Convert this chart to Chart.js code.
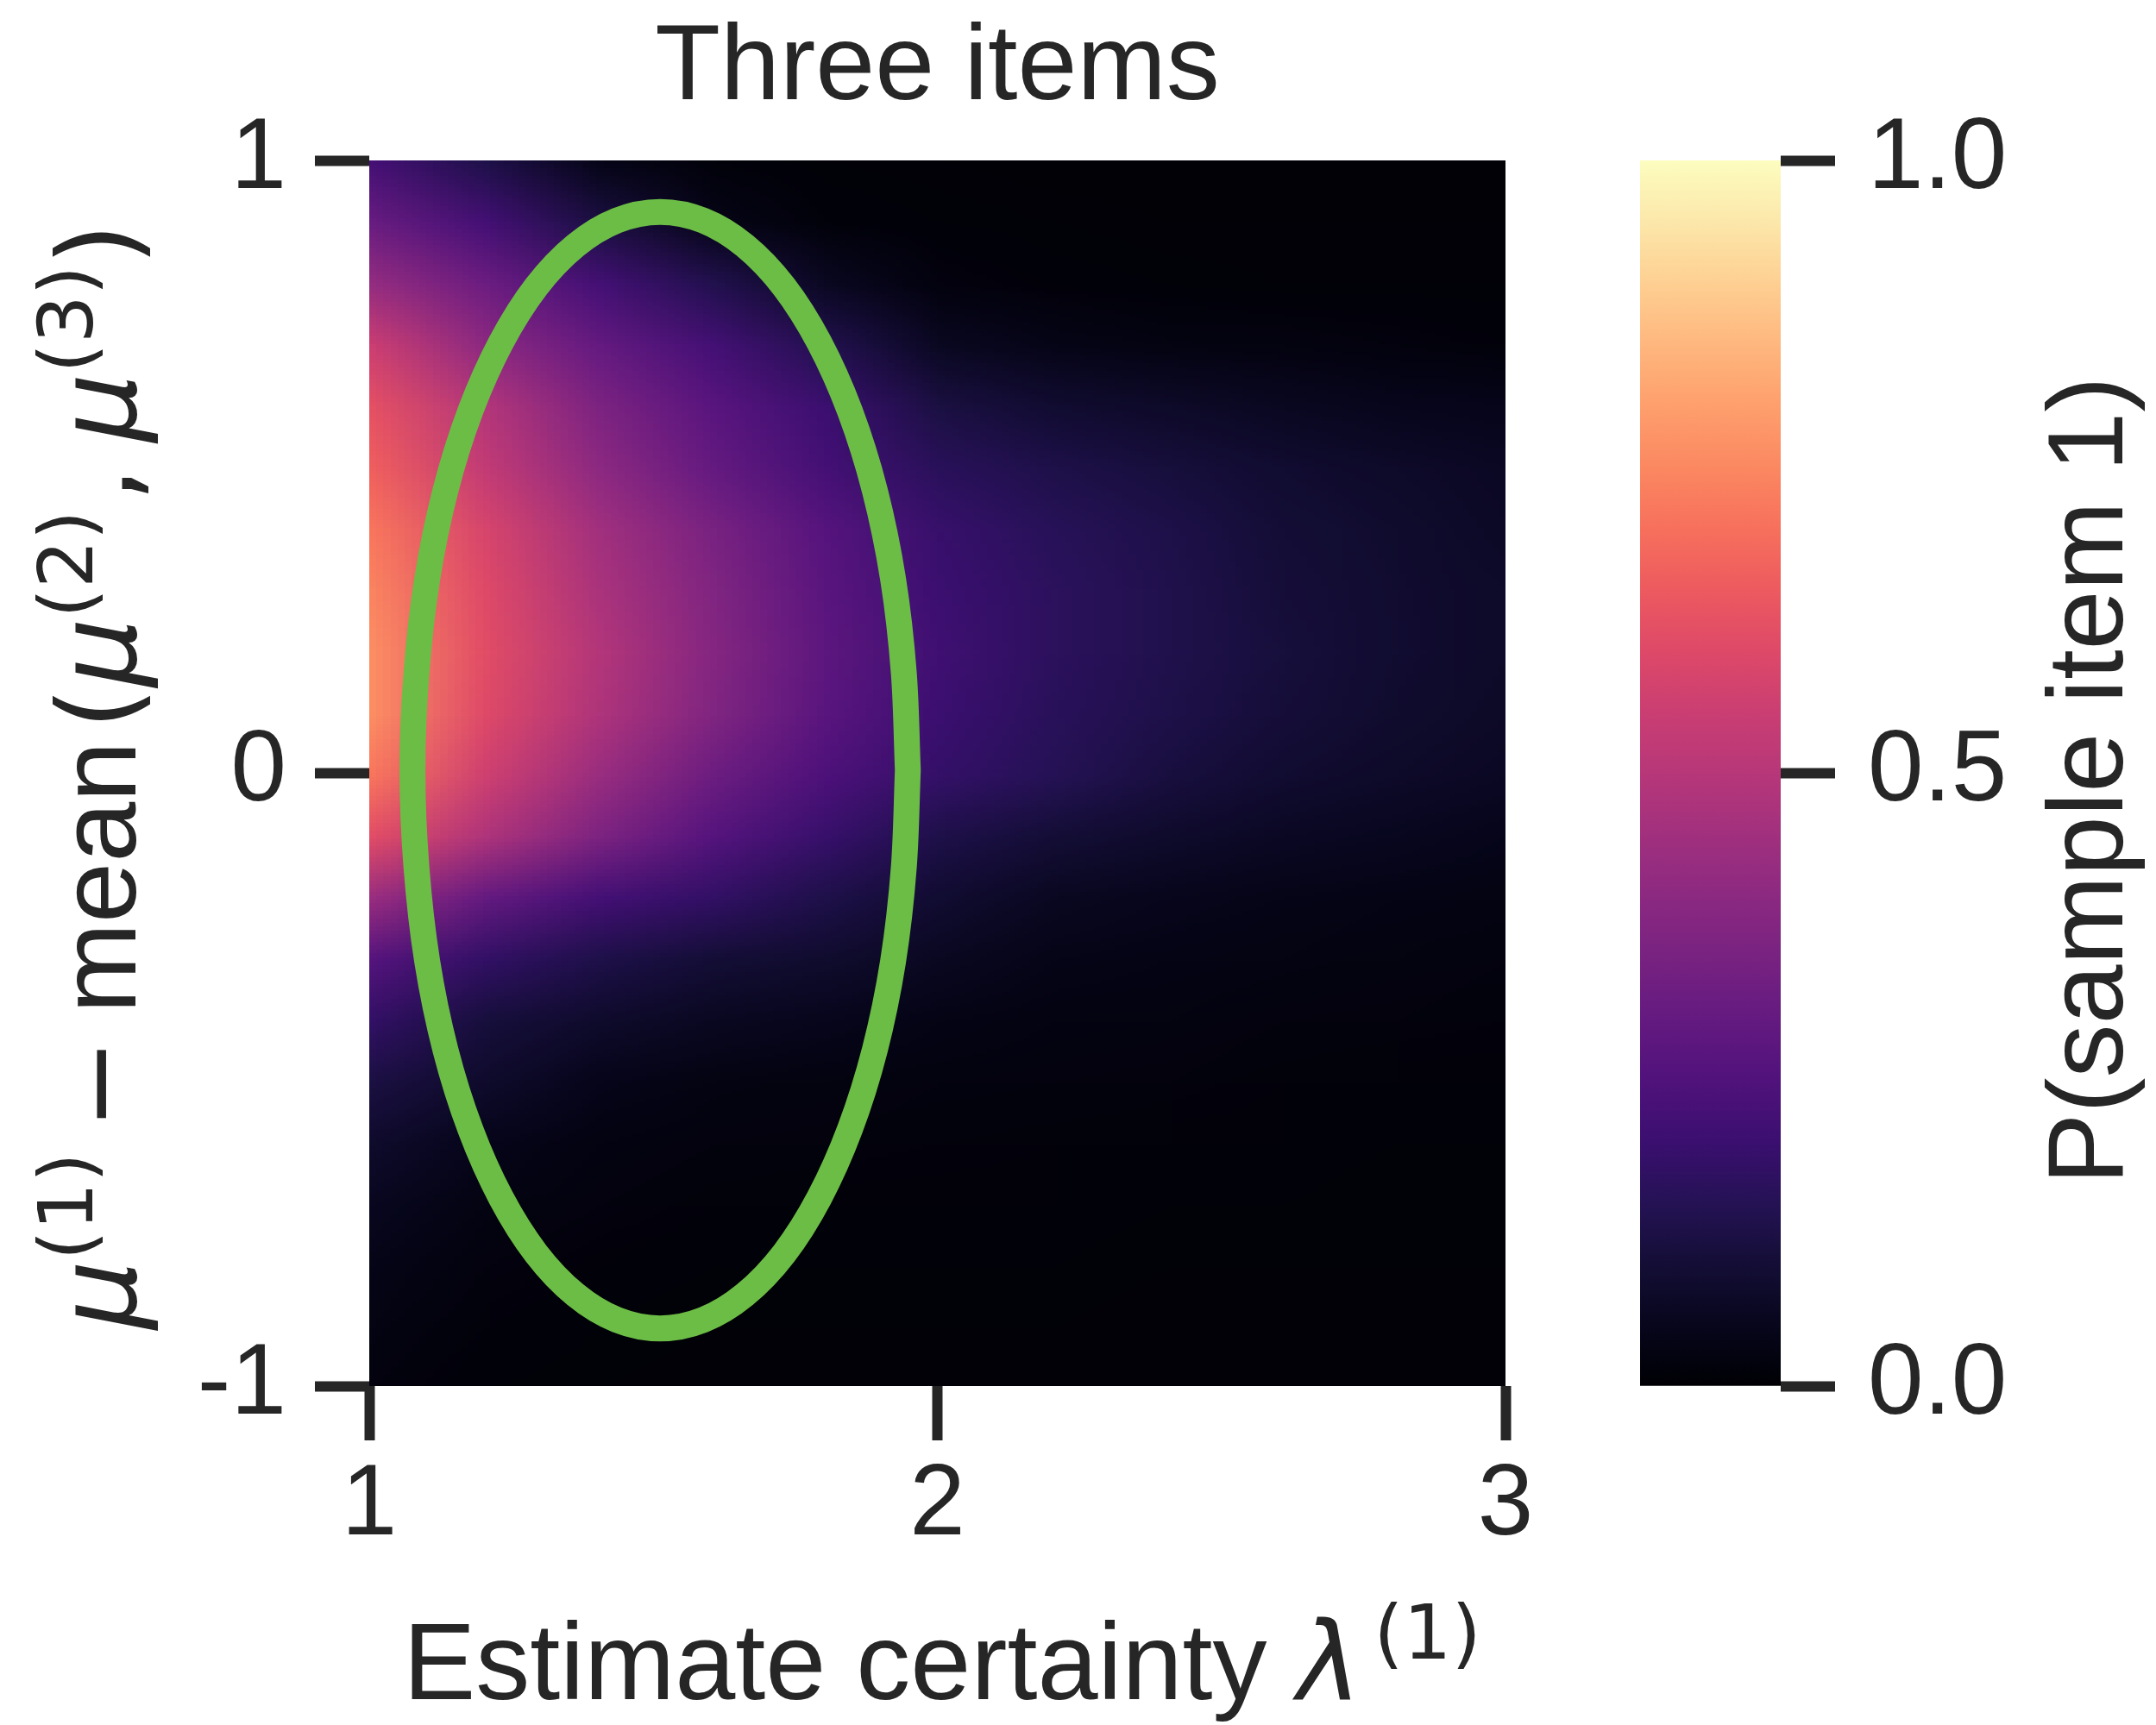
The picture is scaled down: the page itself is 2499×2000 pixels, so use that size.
<!DOCTYPE html>
<html>
<head>
<meta charset="utf-8">
<title>Three items</title>
<script src="https://cdn.jsdelivr.net/npm/chart.js@4.4.1/dist/chart.umd.min.js"></script>
<style>
  html, body { margin: 0; padding: 0; background: #fff; }
  #wrap { position: relative; width: 2499px; height: 2000px; }
  #main { position: absolute; left: 0; top: 0; }
  #cbar { position: absolute; left: 1850px; top: 0; }
</style>
</head>
<body>
<div id="wrap">
  <canvas id="main" width="2499" height="2000"></canvas>
  <canvas id="cbar" width="649" height="2000"></canvas>
</div>
<script>
const titleText = 'Three items';
const cbLabelText = 'P(sample item 1)';

// estimate certainty lambda(1): grid columns
const lambdaGrid = [1.0, 1.2, 1.4, 1.6, 1.8, 2.0, 2.2, 2.4, 2.6, 2.8, 3.0];
// mu(1) - mean(mu(2), mu(3)): grid rows, top to bottom
const deltaGrid = [1.0, 0.9, 0.8, 0.7, 0.6, 0.5, 0.4, 0.3, 0.2, 0.1, 0.0,
  -0.1, -0.2, -0.3, -0.4, -0.5, -0.6, -0.7, -0.8, -0.9, -1.0];
// P(sample item 1), one row per deltaGrid value
const pSample = [
  [0.22, 0.13, 0.04, 0.015, 0.008, 0.006, 0.005, 0.005, 0.005, 0.005, 0.005],
  [0.31, 0.22, 0.12, 0.04, 0.015, 0.01, 0.008, 0.007, 0.006, 0.006, 0.006],
  [0.42, 0.32, 0.22, 0.14, 0.06, 0.02, 0.012, 0.01, 0.009, 0.008, 0.008],
  [0.55, 0.40, 0.30, 0.22, 0.14, 0.06, 0.04, 0.03, 0.025, 0.02, 0.015],
  [0.62, 0.49, 0.36, 0.27, 0.20, 0.12, 0.09, 0.075, 0.06, 0.05, 0.045],
  [0.66, 0.53, 0.40, 0.30, 0.22, 0.16, 0.13, 0.11, 0.09, 0.075, 0.065],
  [0.71, 0.58, 0.45, 0.35, 0.26, 0.19, 0.155, 0.13, 0.10, 0.085, 0.07],
  [0.74, 0.60, 0.47, 0.37, 0.27, 0.20, 0.165, 0.135, 0.105, 0.088, 0.075],
  [0.76, 0.61, 0.49, 0.38, 0.28, 0.21, 0.165, 0.135, 0.11, 0.09, 0.075],
  [0.76, 0.60, 0.48, 0.37, 0.27, 0.20, 0.16, 0.13, 0.105, 0.085, 0.072],
  [0.71, 0.56, 0.43, 0.32, 0.24, 0.185, 0.15, 0.115, 0.09, 0.075, 0.065],
  [0.61, 0.48, 0.36, 0.26, 0.19, 0.13, 0.10, 0.08, 0.065, 0.055, 0.045],
  [0.43, 0.30, 0.22, 0.18, 0.13, 0.09, 0.06, 0.05, 0.04, 0.035, 0.03],
  [0.26, 0.18, 0.13, 0.10, 0.085, 0.06, 0.04, 0.035, 0.03, 0.025, 0.022],
  [0.18, 0.11, 0.08, 0.06, 0.05, 0.035, 0.028, 0.025, 0.02, 0.018, 0.016],
  [0.12, 0.08, 0.045, 0.03, 0.025, 0.022, 0.02, 0.018, 0.015, 0.013, 0.012],
  [0.08, 0.045, 0.028, 0.02, 0.018, 0.016, 0.015, 0.013, 0.012, 0.01, 0.01],
  [0.055, 0.03, 0.02, 0.015, 0.013, 0.012, 0.012, 0.01, 0.01, 0.008, 0.008],
  [0.04, 0.02, 0.012, 0.01, 0.01, 0.01, 0.01, 0.009, 0.008, 0.008, 0.008],
  [0.03, 0.015, 0.01, 0.008, 0.008, 0.008, 0.008, 0.007, 0.007, 0.007, 0.007],
  [0.02, 0.01, 0.008, 0.006, 0.006, 0.006, 0.006, 0.006, 0.006, 0.006, 0.006]
];

// green contour, points read around the loop (last point repeats the first to close it)
const ellipseX = [1.948, 1.941, 1.922, 1.890, 1.846, 1.792, 1.730, 1.661, 1.588, 1.512,
  1.436, 1.363, 1.294, 1.232, 1.178, 1.134, 1.102, 1.083, 1.076, 1.083, 1.102, 1.134,
  1.178, 1.232, 1.294, 1.363, 1.436, 1.512, 1.588, 1.661, 1.730, 1.792, 1.846, 1.890,
  1.922, 1.941, 1.948];
const ellipseY = [0.005, 0.163, 0.317, 0.461, 0.591, 0.703, 0.794, 0.861, 0.902, 0.916,
  0.902, 0.861, 0.794, 0.703, 0.591, 0.461, 0.317, 0.163, 0.005, -0.153, -0.307, -0.451,
  -0.581, -0.693, -0.784, -0.851, -0.892, -0.906, -0.892, -0.851, -0.784, -0.693, -0.581,
  -0.451, -0.307, -0.153, 0.005];

const xTicks = [1, 2, 3];
const yTicks = [-1, 0, 1];
const cbRange = [0, 1];
const cbTicks = [0, 0.5, 1];
const cbTickLabels = ['0.0', '0.5', '1.0'];

const INK = '#262626';
const GREEN = '#6cbd45';
const SANS = '"Liberation Sans", Arial, sans-serif';
const MATH = '"DejaVu Sans", sans-serif';
const MAGMA = ['#000004', '#07061c', '#140e36', '#251255', '#3b0f70', '#51127c', '#641a80',
  '#782281', '#8c2981', '#a1307e', '#b73779', '#ca3e72', '#de4968', '#ed5a5f', '#f7705c',
  '#fb8861', '#fe9f6d', '#feb77e', '#fecf92', '#fce7aa', '#fcfdbf'];

const MAGMA_RGB = MAGMA.map(h => [1, 3, 5].map(k => parseInt(h.slice(k, k + 2), 16)));

function magma(v) {
  v = Math.min(1, Math.max(0, v));
  const t = v * (MAGMA_RGB.length - 1);
  const i = Math.min(Math.floor(t), MAGMA_RGB.length - 2);
  const f = t - i;
  const a = MAGMA_RGB[i], b = MAGMA_RGB[i + 1];
  return [0, 1, 2].map(k => Math.round(a[k] + (b[k] - a[k]) * f));
}

// draw a row of text pieces (math italics, superscripts) centred on (x, y)
function drawRuns(ctx, runs, x, y, angle) {
  ctx.save();
  ctx.translate(x, y);
  ctx.rotate(angle);
  ctx.fillStyle = INK;
  ctx.textBaseline = 'alphabetic';
  ctx.textAlign = 'left';
  let total = 0;
  runs.forEach(r => {
    if (r.gap) { r.w = r.gap; } else { ctx.font = r.font; r.w = ctx.measureText(r.text).width; }
    total += r.w;
  });
  let u = -total / 2;
  runs.forEach(r => {
    if (!r.gap) { ctx.font = r.font; ctx.fillText(r.text, u, -(r.rise || 0)); }
    u += r.w;
  });
  ctx.restore();
}

const LABEL = 126;
const SUP = 88;
const mu = { text: 'μ', font: `italic ${LABEL}px ${MATH}` };
const sup = (s, rise) => ({ text: s, font: `${SUP}px ${MATH}`, rise: rise });

const yLabelRuns = [
  mu, sup('(1)', 50), { gap: 27 },
  { text: '−', font: `${LABEL}px ${MATH}` }, { gap: 29 },
  { text: 'mean', font: `${LABEL}px ${SANS}` }, { gap: 14 },
  { text: '(', font: `${LABEL}px ${MATH}` },
  mu, sup('(2)', 50), { gap: 10 },
  { text: ',', font: `${LABEL}px ${MATH}` }, { gap: 29 },
  mu, sup('(3)', 50),
  { text: ')', font: `${LABEL}px ${MATH}` }
];
const xLabelRuns = [
  { text: 'Estimate certainty ', font: `${LABEL}px ${SANS}` },
  { text: 'λ', font: `italic ${LABEL}px ${MATH}` }, { gap: 14 },
  sup('(1)', 47)
];

const heatmapPlugin = {
  id: 'heatmap',
  beforeDatasetsDraw(chart) {
    const { ctx, chartArea, scales: { x, y } } = chart;
    const nx = lambdaGrid.length, ny = deltaGrid.length;
    const img = document.createElement('canvas');
    img.width = nx;
    img.height = ny;
    const ictx = img.getContext('2d');
    const pix = ictx.createImageData(nx, ny);
    pSample.forEach((row, j) => row.forEach((v, i) => {
      const c = magma(v);
      const k = (j * nx + i) * 4;
      pix.data[k] = c[0]; pix.data[k + 1] = c[1]; pix.data[k + 2] = c[2]; pix.data[k + 3] = 255;
    }));
    ictx.putImageData(pix, 0, 0);
    // grid values sit on cell centres, so the image reaches half a step past the axes
    const hx = (lambdaGrid[1] - lambdaGrid[0]) / 2;
    const hy = (deltaGrid[0] - deltaGrid[1]) / 2;
    const left = x.getPixelForValue(lambdaGrid[0] - hx);
    const right = x.getPixelForValue(lambdaGrid[nx - 1] + hx);
    const top = y.getPixelForValue(deltaGrid[0] + hy);
    const bottom = y.getPixelForValue(deltaGrid[ny - 1] - hy);
    ctx.save();
    ctx.beginPath();
    ctx.rect(chartArea.left, chartArea.top, chartArea.right - chartArea.left, chartArea.bottom - chartArea.top);
    ctx.clip();
    ctx.imageSmoothingEnabled = true;
    ctx.drawImage(img, left, top, right - left, bottom - top);
    ctx.restore();
  }
};

const axisLabelPlugin = {
  id: 'axisLabels',
  afterDraw(chart) {
    drawRuns(chart.ctx, xLabelRuns, 1092, 1970, 0);
    drawRuns(chart.ctx, yLabelRuns, 157, 900, -Math.PI / 2);
  }
};

const tickGrid = { drawOnChartArea: false, drawTicks: true, tickLength: 63, tickWidth: 12, tickColor: INK };
const tickFont = { family: SANS, size: 116 };

new Chart(document.getElementById('main'), {
  type: 'scatter',
  data: {
    datasets: [{
      data: ellipseX.map((v, i) => ({ x: v, y: ellipseY[i] })),
      showLine: true,
      borderColor: GREEN,
      borderWidth: 30,
      tension: 0.33,
      pointRadius: 0,
      fill: false,
      borderCapStyle: 'round',
      borderJoinStyle: 'round'
    }]
  },
  options: {
    responsive: false,
    animation: false,
    devicePixelRatio: 1,
    layout: { padding: { left: 0, top: 0, right: 754, bottom: 0 } },
    plugins: {
      legend: { display: false },
      tooltip: { enabled: false },
      title: {
        display: true,
        text: titleText,
        fullSize: false,
        color: INK,
        font: { family: SANS, size: 124, weight: 'normal', lineHeight: 1.2 },
        padding: { top: 6, bottom: 31.2 }
      }
    },
    scales: {
      x: {
        type: 'linear', min: 1, max: 3,
        afterBuildTicks: s => { s.ticks = xTicks.map(v => ({ value: v })); },
        ticks: { font: tickFont, color: INK, padding: 7, maxRotation: 0, autoSkip: false },
        grid: tickGrid,
        border: { display: false },
        afterFit: s => { s.height = 393; }
      },
      y: {
        type: 'linear', min: -1, max: 1,
        afterBuildTicks: s => { s.ticks = yTicks.map(v => ({ value: v })); },
        ticks: { font: tickFont, color: INK, padding: 33, autoSkip: false },
        grid: tickGrid,
        border: { display: false },
        afterFit: s => { s.width = 428; }
      }
    }
  },
  plugins: [heatmapPlugin, axisLabelPlugin]
});

function colorbarFill(chart) {
  const y = chart.scales.y;
  if (!chart.chartArea || !y) return MAGMA[0];
  const g = chart.ctx.createLinearGradient(0, y.getPixelForValue(cbRange[0]), 0, y.getPixelForValue(cbRange[1]));
  MAGMA.forEach((c, i) => g.addColorStop(i / (MAGMA.length - 1), c));
  return g;
}

const cbLabelPlugin = {
  id: 'cbLabel',
  afterDraw(chart) {
    const ctx = chart.ctx;
    ctx.save();
    ctx.translate(610, 905);
    ctx.rotate(-Math.PI / 2);
    ctx.fillStyle = INK;
    ctx.font = `124px ${SANS}`;
    ctx.textAlign = 'center';
    ctx.textBaseline = 'alphabetic';
    ctx.fillText(cbLabelText, 0, 0);
    ctx.restore();
  }
};

new Chart(document.getElementById('cbar'), {
  type: 'bar',
  data: {
    labels: [cbLabelText],
    datasets: [{
      data: [cbRange],
      backgroundColor: ctx => colorbarFill(ctx.chart),
      borderWidth: 0,
      barPercentage: 1,
      categoryPercentage: 1
    }]
  },
  options: {
    responsive: false,
    animation: false,
    devicePixelRatio: 1,
    layout: { padding: { left: 51, top: 186, right: 0, bottom: 393 } },
    plugins: { legend: { display: false }, tooltip: { enabled: false }, title: { display: false } },
    scales: {
      x: { display: false },
      y: {
        position: 'right', min: 0, max: 1,
        afterBuildTicks: s => { s.ticks = cbTicks.map(v => ({ value: v })); },
        ticks: { font: tickFont, color: INK, padding: 38, autoSkip: false, callback: (v, i) => cbTickLabels[i] },
        grid: tickGrid,
        border: { display: false },
        afterFit: s => { s.width = 435; }
      }
    }
  },
  plugins: [cbLabelPlugin]
});
</script>
</body>
</html>
